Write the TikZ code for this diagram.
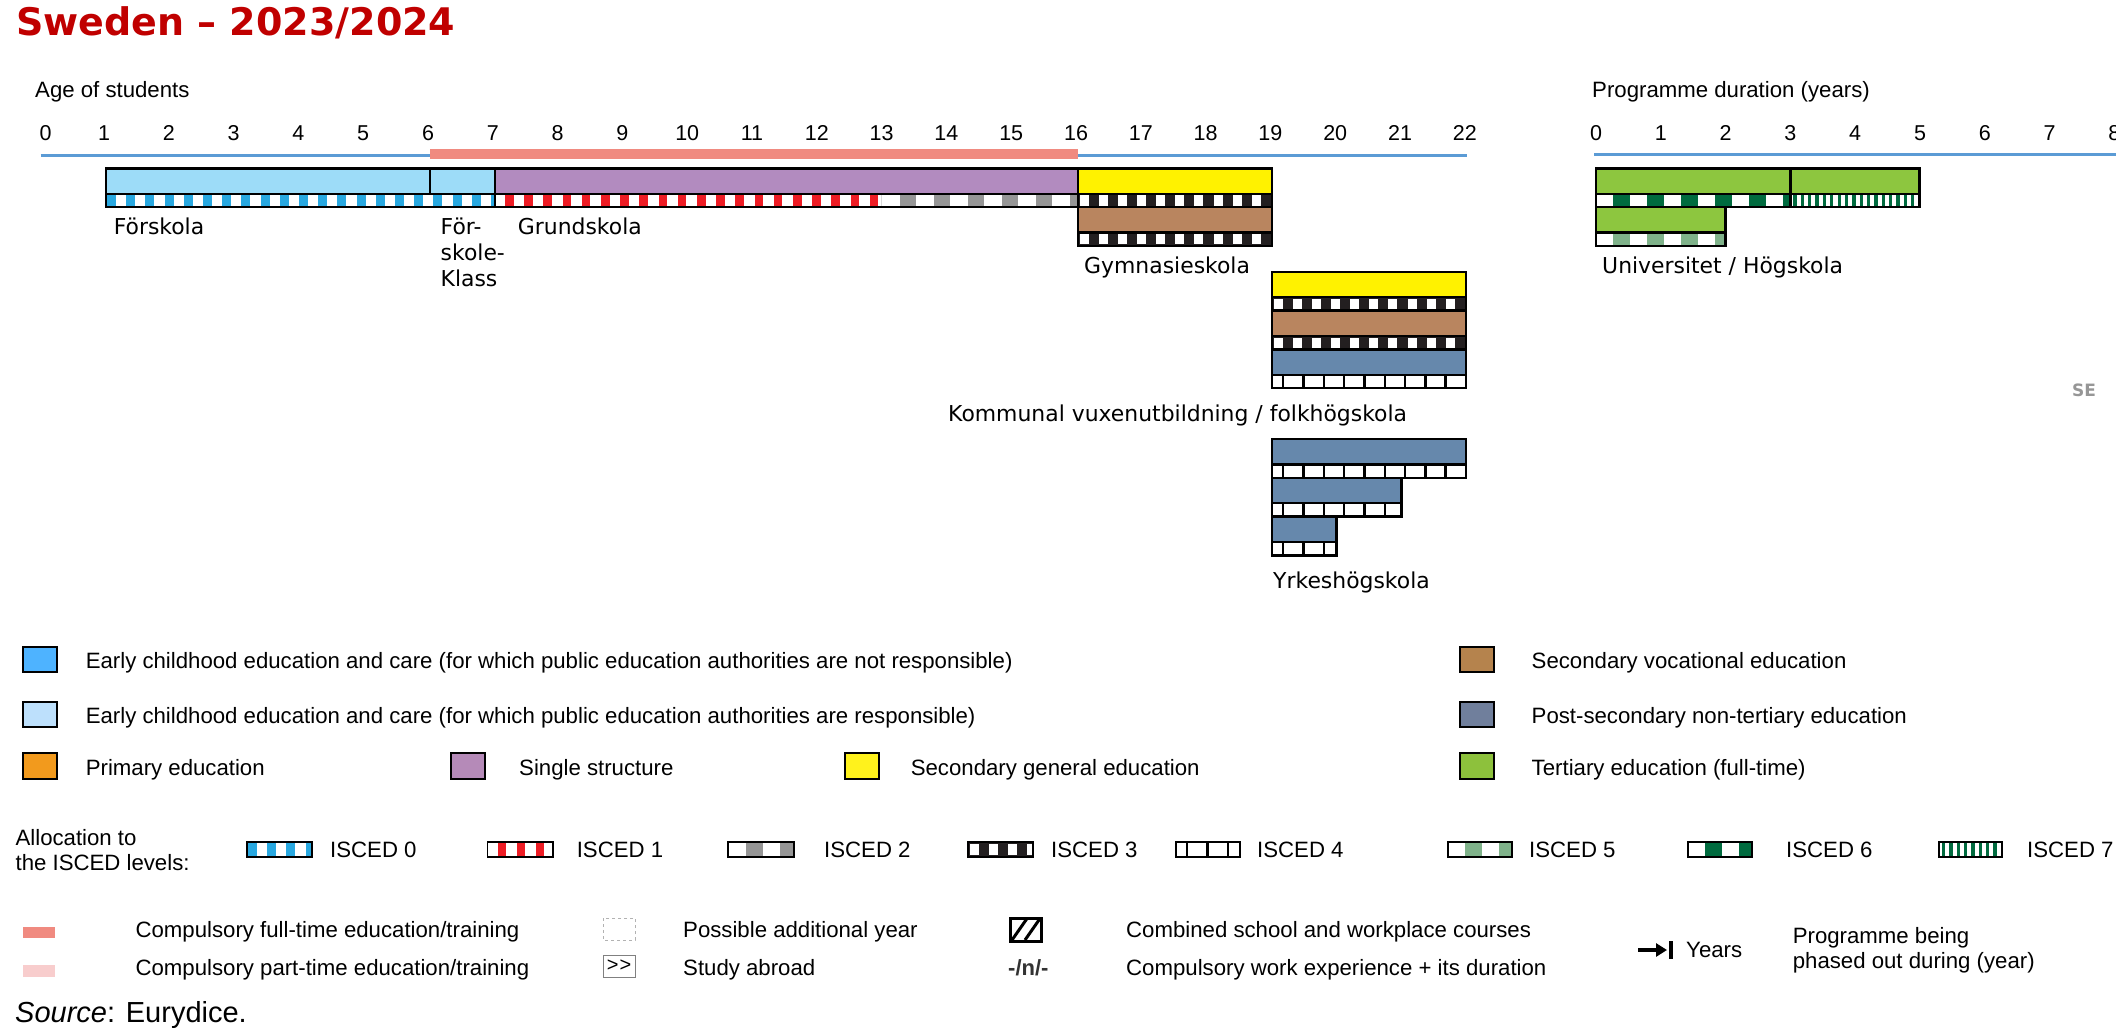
\documentclass[tikz,border=0pt]{standalone}
\usepackage{fontspec}
\setmainfont{Liberation Sans}
\newfontfamily\dv{DejaVu Sans}
\usetikzlibrary{arrows.meta}
\definecolor{titlered}{RGB}{192,0,0}
\definecolor{axisblue}{RGB}{91,155,213}
\definecolor{compft}{RGB}{240,138,128}
\definecolor{comppt}{RGB}{248,205,205}
\definecolor{ecec}{RGB}{157,220,248}
\definecolor{ecNR}{RGB}{78,179,255}
\definecolor{ecR}{RGB}{189,224,252}
\definecolor{prim}{RGB}{242,154,29}
\definecolor{single}{RGB}{178,139,191}
\definecolor{singleL}{RGB}{181,138,184}
\definecolor{secgen}{RGB}{255,242,0}
\definecolor{secgenL}{RGB}{255,242,28}
\definecolor{secvoc}{RGB}{185,133,95}
\definecolor{secvocL}{RGB}{181,131,77}
\definecolor{postsec}{RGB}{102,136,172}
\definecolor{postsecL}{RGB}{112,127,156}
\definecolor{tert}{RGB}{141,198,63}
\definecolor{tertL}{RGB}{141,193,60}
\definecolor{isc0}{RGB}{41,168,224}
\definecolor{isc1}{RGB}{237,28,36}
\definecolor{isc2}{RGB}{150,150,150}
\definecolor{isc3}{RGB}{35,31,32}
\definecolor{isc5}{RGB}{127,178,138}
\definecolor{isc6}{RGB}{0,107,63}
\definecolor{segray}{RGB}{150,150,150}
\definecolor{dkgray}{RGB}{51,51,51}

\newcommand\stripes[8]{%
  \begin{scope}
    \clip (#1,#3) rectangle (#2,#4);
    \pgfmathtruncatemacro\nstr{((#2)-(#1))/(#5)+2}
    \foreach \i in {0,...,\nstr}{\fill[#8] ({#1+#7+(\i-1)*#5},#3) rectangle ++(#6,{(#4)-(#3)});}
  \end{scope}}
\newcommand\iscA[4]{\fill[white] (#1,#3) rectangle (#2,#4); \stripes{#1}{#2}{#3}{#4}{19.2}{9}{1}{isc0}}
\newcommand\iscB[4]{\fill[white] (#1,#3) rectangle (#2,#4); \stripes{#1}{#2}{#3}{#4}{19.2}{8.5}{10}{isc1}}
\newcommand\iscC[4]{\fill[white] (#1,#3) rectangle (#2,#4); \stripes{#1}{#2}{#3}{#4}{34}{16.7}{18}{isc2}}
\newcommand\iscD[4]{\fill[isc3] (#1,#3) rectangle (#2,#4); \stripes{#1}{#2}{#3+1.6}{#4-1.6}{19.07}{9}{2}{white}}
\newcommand\iscE[4]{\fill[white] (#1,#3) rectangle (#2,#4); \stripes{#1}{#2}{#3}{#4}{20.3}{2.4}{10}{black}}
\newcommand\iscF[4]{\fill[white] (#1,#3) rectangle (#2,#4); \stripes{#1}{#2}{#3}{#4}{34}{16.7}{17}{isc5}}
\newcommand\iscG[4]{\fill[white] (#1,#3) rectangle (#2,#4); \stripes{#1}{#2}{#3}{#4}{34}{16.7}{17}{isc6}}
\newcommand\iscH[4]{\fill[white] (#1,#3) rectangle (#2,#4); \stripes{#1}{#2}{#3}{#4}{7.35}{3.3}{3}{isc6}}
\newcommand\ebar[5]{%
  \fill[#4] (#1,#3) rectangle (#2,{#3+25.4});
  #5{#1}{#2}{#3+25.4}{#3+38.8}
  \draw[bd] (#1,#3) rectangle (#2,{#3+38.8});
  \draw[bd] (#1,{#3+25.4}) -- (#2,{#3+25.4});}

\begin{document}
\begin{tikzpicture}[x=1pt,y=-1pt,
  bd/.style={draw=black,line width=2.4},
  sw/.style={draw=black,line width=2},
  lbl/.style={inner sep=0,anchor=base west,font=\dv\fontsize{21.9}{26}\selectfont},
  leg/.style={inner sep=0,anchor=base west,font=\fontsize{22.2}{26}\selectfont},
  tick/.style={inner sep=0,anchor=base,font=\fontsize{21.5}{26}\selectfont}]
\useasboundingbox (0,0) rectangle (2116,1032);
\fill[white] (0,0) rectangle (2116,1032);

% title
\node[inner sep=0,anchor=base west,text=titlered,font=\dv\bfseries\fontsize{38}{42}\selectfont] (title) at (16,36) {Sweden – 2023/2024};

% axes
\node[leg] (agelbl) at (35,97.5) {Age of students};
\node[leg] (durlbl) at (1592,97.5) {Programme duration (years)};
\node[tick] (age0) at (45.5,141) {0};
\foreach \a in {1,...,22}{\node[tick] (age\a) at ({104+(\a-1)*64.8},141) {\a};}
\foreach \k in {0,...,8}{\node[tick] (dur\k) at ({1596+\k*64.8},141) {\k};}
\draw[axisblue,line width=3] (40.5,155.5) -- (1467,155.5);
\draw[axisblue,line width=3] (1594,155) -- (2116,155);
\fill[compft] (430,149) rectangle (1078,159);

% row A main bar
\fill[ecec] (106,168.5) rectangle (495,193.9);
\fill[single] (495,168.5) rectangle (1078,193.9);
\fill[secgen] (1078,168.5) rectangle (1272,193.9);
\iscA{106}{495}{193.9}{207.3}
\iscB{495}{881.6}{193.9}{207.3}
\iscC{881.6}{1078}{193.9}{207.3}
\iscD{1078}{1272}{193.9}{207.3}
\draw[bd] (106,168.5) rectangle (1272,207.3);
\draw[bd] (106,193.9) -- (1272,193.9);
\draw[bd] (430,168.5) -- (430,193.9);
\draw[bd] (495,168.5) -- (495,207.3);
\draw[bd] (1078,168.5) -- (1078,207.3);
% row B
\ebar{1078}{1272}{207.3}{secvoc}{\iscD}

% Kommunal vuxenutbildning
\ebar{1272}{1466}{271.7}{secgen}{\iscD}
\ebar{1272}{1466}{310.5}{secvoc}{\iscD}
\ebar{1272}{1466}{349.3}{postsec}{\iscE}
% Yrkeshogskola
\ebar{1272}{1466}{439}{postsec}{\iscE}
\ebar{1272}{1401.3}{477.8}{postsec}{\iscE}
\ebar{1272}{1336.5}{516.6}{postsec}{\iscE}

% tertiary
\fill[tert] (1596,168.5) rectangle (1919.5,193.9);
\iscG{1596}{1790.4}{193.9}{207.3}
\iscH{1790.4}{1919.5}{193.9}{207.3}
\draw[bd] (1596,168.5) rectangle (1919.5,207.3);
\draw[bd] (1596,193.9) -- (1919.5,193.9);
\draw[bd] (1790.4,168.5) -- (1790.4,207.3);
\ebar{1596}{1725.6}{207.3}{tert}{\iscF}

% programme labels
\node[lbl] (forskola) at (113.6,235) {Förskola};
\node[lbl] (fk1) at (440.5,235) {För-};
\node[lbl] (fk2) at (440.5,261) {skole-};
\node[lbl] (fk3) at (440.5,287) {Klass};
\node[lbl] (grund) at (517.7,235) {Grundskola};
\node[lbl] (gymn) at (1084,273) {Gymnasieskola};
\node[lbl] (univ) at (1602,273) {Universitet / Högskola};
\node[lbl] (komvux) at (948,421.7) {Kommunal vuxenutbildning / folkhögskola};
\node[lbl] (yrkes) at (1273,588.5) {Yrkeshögskola};
\node[inner sep=0,anchor=base west,text=segray,font=\dv\bfseries\fontsize{17}{20}\selectfont] (se) at (2072,396) {SE};

% legend: colours
\filldraw[sw,fill=ecNR] (23,647) rectangle (57,672);
\node[leg] (l1) at (85.6,668) {Early childhood education and care (for which public education authorities are not responsible)};
\filldraw[sw,fill=ecR] (23,702) rectangle (57,727);
\node[leg] (l2) at (85.6,723) {Early childhood education and care (for which public education authorities are responsible)};
\filldraw[sw,fill=prim] (23,753) rectangle (57,779);
\node[leg] (l3) at (85.6,775) {Primary education};
\filldraw[sw,fill=singleL] (451,753) rectangle (485,779);
\node[leg] (l4) at (519,775) {Single structure};
\filldraw[sw,fill=secgenL] (845,753) rectangle (879,779);
\node[leg] (l5) at (910.6,775) {Secondary general education};
\filldraw[sw,fill=secvocL] (1460,647) rectangle (1494,672);
\node[leg] (l6) at (1531.5,668) {Secondary vocational education};
\filldraw[sw,fill=postsecL] (1460,702) rectangle (1494,727);
\node[leg] (l7) at (1531.5,723) {Post-secondary non-tertiary education};
\filldraw[sw,fill=tertL] (1460,753) rectangle (1494,779);
\node[leg] (l8) at (1531.5,775) {Tertiary education (full-time)};

% legend: ISCED
\node[leg] (alloc1) at (15.4,845.7) {Allocation to};
\node[leg] (alloc2) at (15.4,870.7) {the ISCED levels:};
\iscA{247}{312}{842}{857}\draw[sw,line width=1.5] (247,842) rectangle (312,857);
\node[leg] (i0) at (330,857) {ISCED 0};
\iscB{487.5}{553}{842}{857}\draw[sw,line width=1.5] (487.5,842) rectangle (553,857);
\node[leg] (i1) at (576.6,857) {ISCED 1};
\iscC{728}{794}{842}{857}\draw[sw,line width=1.5] (728,842) rectangle (794,857);
\node[leg] (i2) at (824,857) {ISCED 2};
\iscD{968}{1033}{842}{857}\draw[sw,line width=1.5] (968,842) rectangle (1033,857);
\node[leg] (i3) at (1051,857) {ISCED 3};
\iscE{1176}{1240}{842}{857}\draw[sw,line width=1.5] (1176,842) rectangle (1240,857);
\node[leg] (i4) at (1257,857) {ISCED 4};
\iscF{1448}{1512}{842}{857}\draw[sw,line width=1.5] (1448,842) rectangle (1512,857);
\node[leg] (i5) at (1529,857) {ISCED 5};
\iscG{1688}{1752}{842}{857}\draw[sw,line width=1.5] (1688,842) rectangle (1752,857);
\node[leg] (i6) at (1786,857) {ISCED 6};
\iscH{1939}{2002}{842}{857}\draw[sw,line width=1.5] (1939,842) rectangle (2002,857);
\node[leg] (i7) at (2027,857) {ISCED 7};

% legend: other symbols
\fill[compft] (23,927) rectangle (55,938);
\node[leg] (cft) at (135.4,937.3) {Compulsory full-time education/training};
\fill[comppt] (23,965) rectangle (55,977);
\node[leg] (cpt) at (135.4,975.7) {Compulsory part-time education/training};
\draw[gray!60,dashed,line width=1] (603,918) rectangle (635,940);
\node[leg] (addyr) at (683,937.3) {Possible additional year};
\draw[gray,line width=1] (603,955) rectangle (635,977);
\node[inner sep=0,font=\fontsize{20}{22}\selectfont] (abr) at (619,966) {>\kern1pt>};
\node[leg] (abroad) at (683,975.7) {Study abroad};
\draw[black,line width=3] (1010.5,918) rectangle (1041.5,941);
\draw[black,line width=3] (1012,940) -- (1027,918.5);
\draw[black,line width=3] (1025,940) -- (1040,918.5);
\node[leg] (comb) at (1126,937.3) {Combined school and workplace courses};
\node[inner sep=0,anchor=base west,text=dkgray,font=\bfseries\fontsize{22}{24}\selectfont] (wexp) at (1008,975.5) {-/n/-};
\node[leg] (wexpt) at (1126,975.7) {Compulsory work experience + its duration};
\coordinate (arrA) at (1638,950);
\coordinate (arrB) at (1667,950);
\draw[line width=3.5,-{Triangle[length=11pt,width=13pt]}] (arrA) -- (arrB);
\draw[line width=3.5] (1671,941) -- (1671,959);
\node[leg] (years) at (1686,957) {Years};
\node[leg] (phase1) at (1792.6,943.5) {Programme being};
\node[leg] (phase2) at (1792.6,968) {phased out during (year)};
\node[inner sep=0,anchor=base west,font=\fontsize{29}{32}\selectfont] (src) at (15,1022) {\itshape Source\upshape: Eurydice.};
\end{tikzpicture}
\end{document}
